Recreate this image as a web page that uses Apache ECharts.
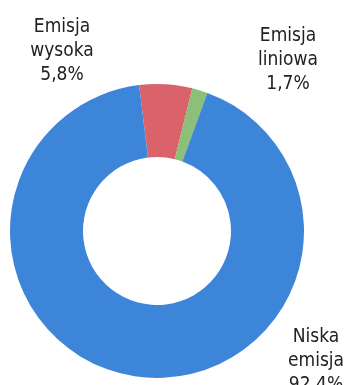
<!DOCTYPE html>
<html>
<head>
<meta charset="utf-8">
<script src="https://cdn.jsdelivr.net/npm/echarts@6/dist/echarts.min.js"></script>
<style>
  html, body { margin: 0; padding: 0; background: #ffffff; }
  #chart { width: 348px; height: 385px; }
</style>
</head>
<body>
<div id="chart"></div>
<script>
// Emission categories and their shares (%)
const categories = ['Emisja\nwysoka', 'Emisja\nliniowa', 'Niska\nemisja'];
const shares = [5.8, 1.7, 92.4];
const colors = ['#d9626b', '#8cbf78', '#3d85d8'];

// Where each label block sits (centre x, top y)
const labelSpots = [
  { x: 62, y: 15 },
  { x: 288, y: 24 },
  { x: 316, y: 325 }
];

const chart = echarts.init(document.getElementById('chart'), null, { renderer: 'canvas' });

chart.setOption({
  animation: false,
  backgroundColor: '#ffffff',
  series: [{
    type: 'pie',
    center: [157, 231],
    radius: [74, 147],
    startAngle: 97,
    clockwise: true,
    avoidLabelOverlap: false,
    data: categories.map((name, i) => ({
      name: name,
      value: shares[i],
      itemStyle: { color: colors[i] }
    })),
    itemStyle: { borderWidth: 0 },
    label: {
      show: true,
      position: 'outside',
      formatter: p => p.name + '\n' + p.value.toFixed(1).replace('.', ',') + '%',
      fontFamily: '"DejaVu Sans Condensed", "DejaVu Sans", sans-serif',
      fontSize: 19,
      lineHeight: 24,
      color: '#222222',
      align: 'center'
    },
    labelLine: { show: false },
    labelLayout: params => ({
      x: labelSpots[params.dataIndex].x,
      y: labelSpots[params.dataIndex].y,
      align: 'center',
      verticalAlign: 'top'
    }),
    emphasis: { disabled: true }
  }]
});
</script>
</body>
</html>
